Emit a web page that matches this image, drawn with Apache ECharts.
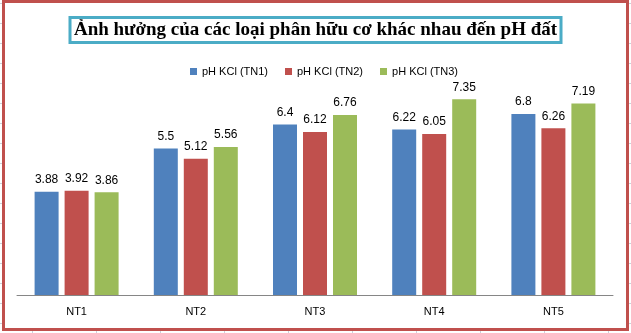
<!DOCTYPE html>
<html><head><meta charset="utf-8">
<script src="https://cdn.jsdelivr.net/npm/echarts@6/dist/echarts.min.js"></script>
<style>html,body{margin:0;padding:0;background:#fff}#c{width:631px;height:333px}</style>
</head><body><div id="c"></div>
<script>
const categories = ['NT1', 'NT2', 'NT3', 'NT4', 'NT5'];
const tn1 = [3.88, 5.5, 6.4, 6.22, 6.8];
const tn2 = [3.92, 5.12, 6.12, 6.05, 6.26];
const tn3 = [3.86, 5.56, 6.76, 7.35, 7.19];
const seriesNames = ['pH KCl (TN1)', 'pH KCl (TN2)', 'pH KCl (TN3)'];
const seriesData = [tn1, tn2, tn3];
const colors = ['#4F81BD', '#C0504D', '#9BBB59'];
const titleText = 'Ảnh hưởng của các loại phân hữu cơ khác nhau đến pH đất';

const chart = echarts.init(document.getElementById('c'));

// decorative spreadsheet gridline stubs outside the chart frame
const deco = [];
const gc = '#CDD1DB';
for (let y = 3; y < 333; y += 20) {
  deco.push({type:'line', shape:{x1:0,y1:y+0.5,x2:2,y2:y+0.5}, style:{stroke:gc,lineWidth:1}, silent:true});
  deco.push({type:'line', shape:{x1:629,y1:y+0.5,x2:631,y2:y+0.5}, style:{stroke:gc,lineWidth:1}, silent:true});
}
for (let x = 32; x < 631; x += 64) {
  deco.push({type:'line', shape:{x1:x+0.5,y1:331,x2:x+0.5,y2:333}, style:{stroke:gc,lineWidth:1}, silent:true});
}
deco.push({type:'rect', shape:{x:3.5,y:1.5,width:624,height:328}, style:{fill:'none',stroke:'#C0504D',lineWidth:3}, silent:true, z:100});

chart.setOption({
  backgroundColor: '#fff',
  animation: false,
  title: {
    text: titleText,
    left: 'center',
    top: 17,
    padding: [4, 4, 3, 4],
    borderColor: '#4BACC6',
    borderWidth: 3,
    backgroundColor: '#fff',
    textStyle: {fontFamily: 'Liberation Serif', fontWeight: 'bold', fontSize: 19, color: '#000'}
  },
  legend: {
    left: 185,
    top: 61,
    itemWidth: 7,
    itemHeight: 7,
    itemGap: 17,
    icon: 'rect',
    textStyle: {fontFamily: 'Liberation Sans', fontSize: 11, color: '#000'},
    data: seriesNames
  },
  grid: {left: 17, right: 18, top: 82, bottom: 38, containLabel: false},
  xAxis: {
    type: 'category',
    data: categories,
    axisLine: {lineStyle: {color: '#868686', width: 1}},
    axisTick: {show: false},
    axisLabel: {fontFamily: 'Liberation Sans', fontSize: 11, color: '#000', margin: 11}
  },
  yAxis: {type: 'value', min: 0, max: 8, show: false, splitLine: {show: false}},
  series: seriesNames.map((n, i) => ({
    name: n,
    type: 'bar',
    data: seriesData[i],
    barWidth: 24,
    barGap: '25%',
    itemStyle: {color: colors[i]},
    label: {show: true, position: 'top', distance: 6, fontFamily: 'Liberation Sans', fontSize: 12, color: '#000'}
  })),
  graphic: deco
});
</script></body></html>
